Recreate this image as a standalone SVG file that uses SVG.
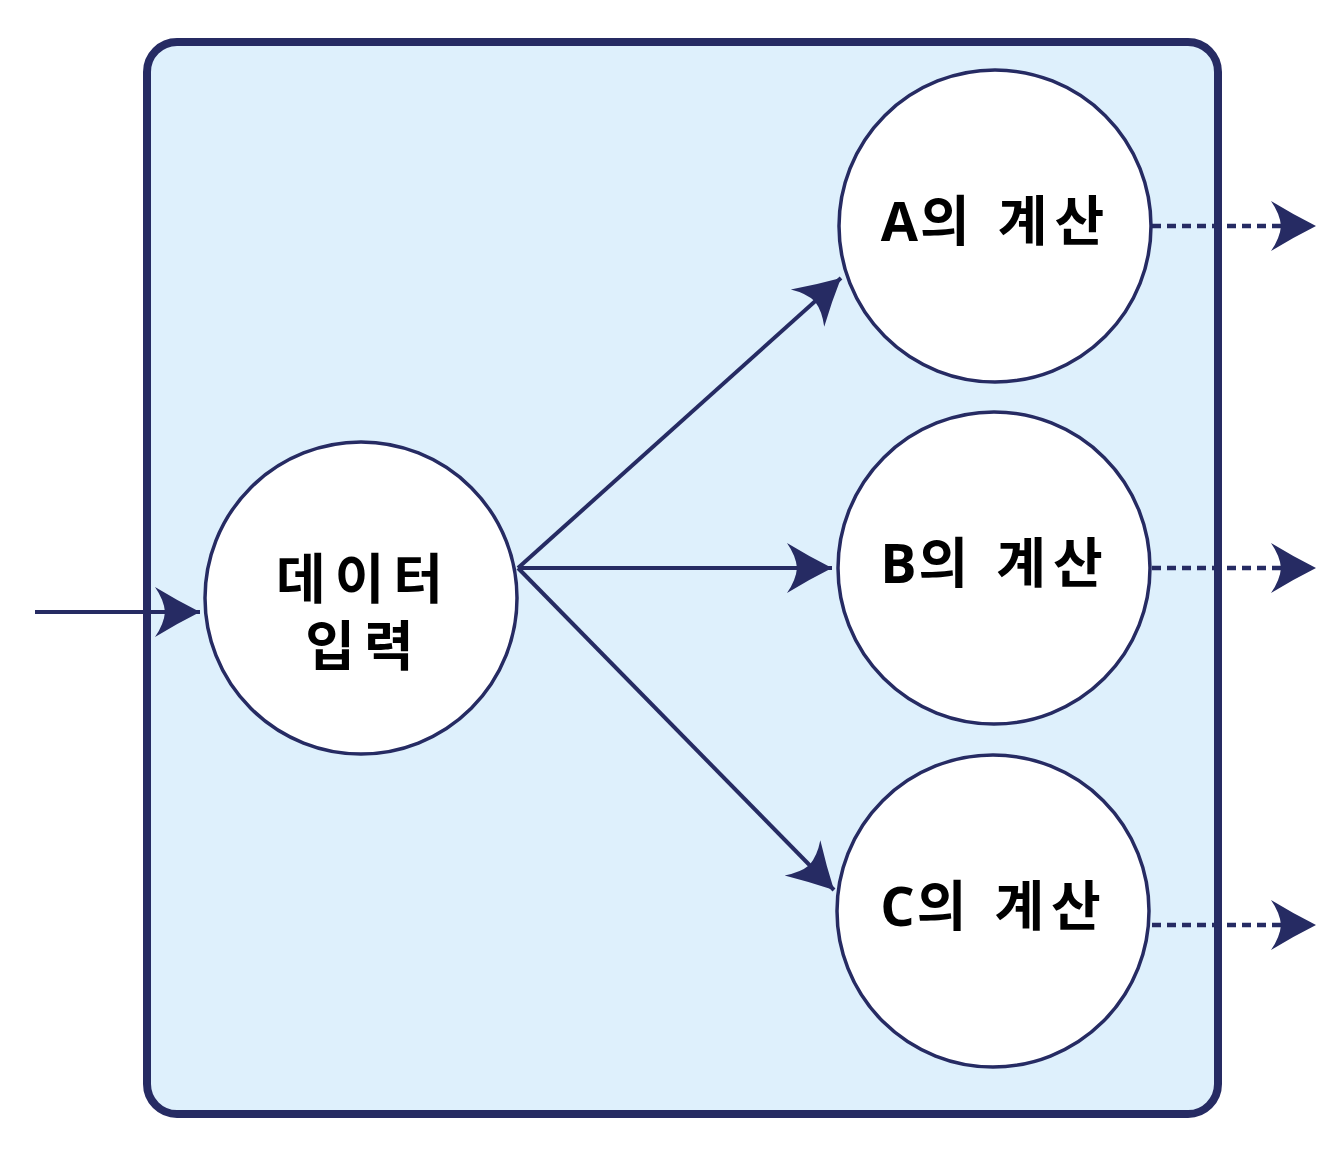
<svg xmlns="http://www.w3.org/2000/svg" width="1331" height="1150" viewBox="0 0 1331 1150">
<style>
.node{fill:#ffffff;stroke:#262b63;stroke-width:3.5}
.lbl{font-family:"Open Sans","Noto Sans CJK KR",sans-serif;font-weight:bold;font-size:54px;fill:#000;text-anchor:middle;letter-spacing:7px}
.lat{letter-spacing:2px}
.edge{stroke:#262b63;stroke-width:4;fill:none}
.dot{stroke:#262b63;stroke-width:4.5;fill:none;stroke-dasharray:9 6}
</style>
<defs>
<marker id="ah" markerUnits="userSpaceOnUse" markerWidth="60" markerHeight="60" refX="46" refY="26" orient="auto" viewBox="0 0 60 60">
<path d="M46,26 Q24,15 1,1 Q10,14 11,26 Q10,38 1,51 Q24,37 46,26 Z" fill="#262b63"/>
</marker>
</defs>
<rect id="frame" x="147" y="42" width="1071" height="1072" rx="30" fill="#def0fc" stroke="#262b63" stroke-width="8"/>
<g id="connectors">
<line class="edge" x1="35" y1="612" x2="200" y2="612" marker-end="url(#ah)"/>
<line class="edge" x1="518" y1="568" x2="841" y2="278" marker-end="url(#ah)"/>
<line class="edge" x1="518" y1="568" x2="832" y2="568" marker-end="url(#ah)"/>
<line class="edge" x1="518" y1="568" x2="834" y2="890" marker-end="url(#ah)"/>
<line class="dot" x1="1152" y1="226" x2="1316" y2="226" marker-end="url(#ah)"/>
<line class="dot" x1="1152" y1="568" x2="1316" y2="568" marker-end="url(#ah)"/>
<line class="dot" x1="1152" y1="925" x2="1316" y2="925" marker-end="url(#ah)"/>
</g>
<g id="input">
<circle class="node" cx="361" cy="598" r="156"/>
<text class="lbl" x="364" y="599" style="letter-spacing:9px">데이터</text>
<text class="lbl" x="364" y="666" style="letter-spacing:9px">입력</text>
</g>
<g id="calcA">
<circle class="node" cx="995" cy="226" r="156"/>
<text class="lbl" x="996" y="241"><tspan class="lat">A</tspan>의 계산</text>
</g>
<g id="calcB">
<circle class="node" cx="994" cy="568" r="156"/>
<text class="lbl" x="995" y="583"><tspan class="lat">B</tspan>의 계산</text>
</g>
<g id="calcC">
<circle class="node" cx="993" cy="911" r="156"/>
<text class="lbl" x="994" y="926"><tspan class="lat">C</tspan>의 계산</text>
</g>
</svg>
